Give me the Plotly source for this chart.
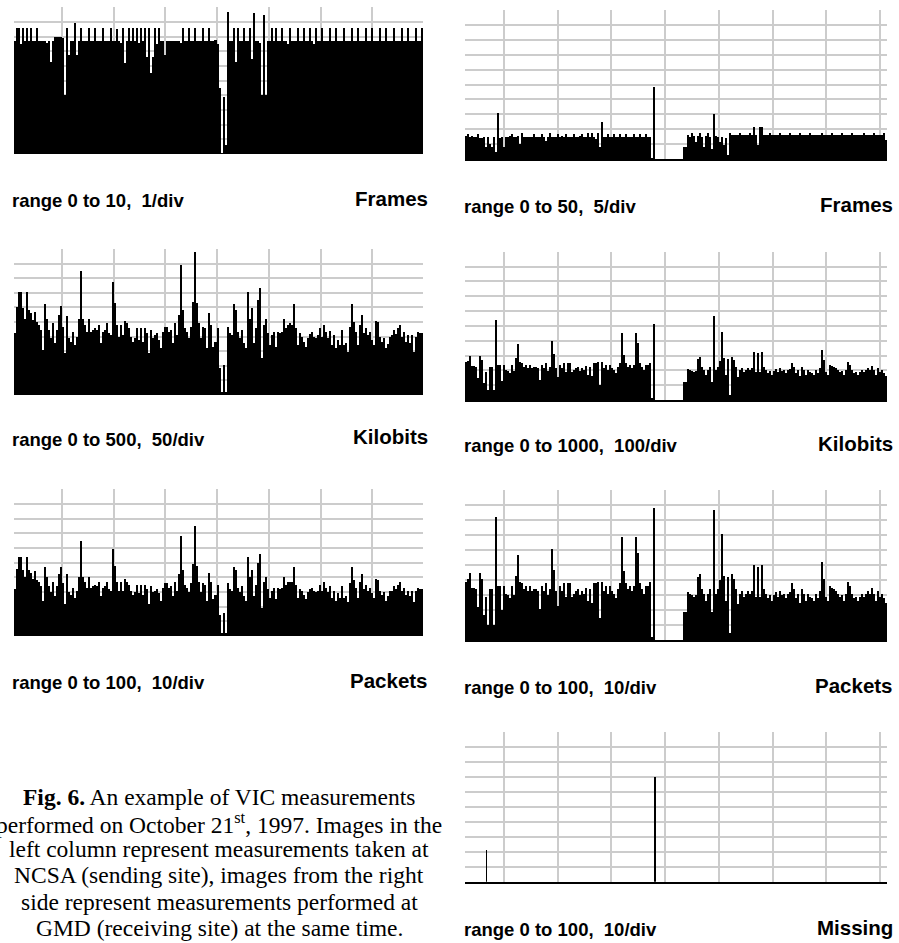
import plotly.graph_objects as go

W, H = 899, 943

# ---------------- data ----------------
left_frames = [
    7.7, 8.6, 8.6, 7.5, 8.6, 7.7, 8.6, 7.7, 8.6, 7.7,
    7.7, 8.6, 7.7, 7.7, 7.7, 7.7, 7.6, 7.7, 6.3, 7.7,
    7.95, 7.95, 7.95, 7.95, 7.9, 4.0, 8.6, 6.75, 7.7, 7.7,
    8.9, 6.75, 7.7, 8.6, 7.7, 7.7, 7.7, 8.6, 7.7, 7.7,
    8.6, 7.7, 7.7, 7.7, 8.6, 7.7, 7.7, 7.7, 8.6, 7.7,
    7.7, 8.5, 7.7, 7.6, 8.6, 6.2, 7.7, 8.6, 7.7, 8.6,
    7.7, 8.6, 7.6, 8.6, 7.7, 8.6, 6.6, 8.6, 5.5, 6.6,
    8.6, 7.5, 8.6, 7.7, 7.7, 6.75, 7.7, 7.7, 7.7, 7.7,
    7.7, 7.7, 7.7, 7.6, 8.6, 7.7, 7.7, 8.6, 7.7, 7.7,
    8.6, 7.7, 7.7, 7.7, 8.6, 7.7, 7.7, 8.6, 7.7, 7.7,
    7.8, 7.5, 4.5, 0.05, 3.9, 0.6, 9.7, 7.7, 7.7, 8.6,
    6.3, 8.6, 7.7, 7.7, 8.6, 7.7, 7.7, 8.6, 6.5, 9.6,
    7.7, 7.7, 7.6, 4.0, 9.5, 4.0, 7.7, 7.7, 8.6, 7.7,
    8.6, 7.7, 7.7, 8.6, 7.7, 7.7, 7.5, 8.6, 7.7, 7.7,
    7.7, 8.6, 7.7, 7.7, 8.6, 7.7, 7.7, 8.6, 7.7, 7.5,
    8.6, 7.7, 7.7, 8.6, 7.7, 7.7, 7.7, 8.6, 7.7, 7.7,
    8.6, 7.7, 7.7, 7.7, 8.6, 7.7, 7.7, 7.7, 8.6, 7.7,
    7.7, 8.6, 7.7, 7.7, 7.7, 8.6, 7.7, 7.7, 8.6, 7.7,
    7.7, 7.7, 8.6, 7.7, 7.7, 8.6, 7.7, 7.7, 7.7, 8.6,
    7.7, 7.7, 7.7, 8.6, 7.7, 7.7, 8.6, 7.7, 7.7, 7.7,
    8.6, 7.7, 7.7, 8.6,
]

left_kilobits = [
    211, 302, 354, 354, 297, 262, 354, 291, 280, 257,
    285, 251, 240, 223, 154, 310, 262, 223, 194, 245,
    177, 223, 274, 305, 234, 143, 272, 194, 183, 217,
    171, 200, 262, 425, 260, 240, 215, 260, 217, 223,
    228, 223, 240, 177, 217, 223, 245, 211, 205, 388,
    314, 240, 200, 240, 205, 253, 245, 228, 200, 183,
    194, 228, 188, 228, 183, 231, 211, 143, 223, 194,
    205, 211, 188, 160, 215, 234, 234, 217, 223, 177,
    245, 205, 274, 445, 291, 228, 217, 194, 234, 320,
    489, 314, 245, 194, 234, 228, 160, 280, 240, 165,
    183, 228, 91, 11, 103, 11, 234, 211, 205, 310,
    291, 217, 194, 223, 177, 160, 354, 262, 297, 177,
    228, 325, 368, 126, 240, 260, 211, 171, 205, 217,
    165, 217, 211, 217, 262, 228, 240, 245, 240, 310,
    228, 171, 211, 200, 183, 165, 194, 208, 217, 200,
    194, 205, 228, 200, 240, 217, 194, 219, 171, 205,
    160, 188, 171, 223, 171, 177, 148, 234, 310, 251,
    217, 171, 240, 274, 211, 228, 205, 217, 188, 171,
    253, 251, 200, 183, 194, 160, 174, 200, 205, 223,
    208, 228, 240, 200, 217, 183, 205, 177, 205, 148,
    200, 217, 211, 211,
]

left_packets = [
    32, 46, 54, 54, 45, 40, 54, 45, 43, 39,
    44, 38, 37, 34, 24, 47, 40, 34, 30, 37,
    27, 34, 42, 47, 36, 22, 42, 30, 28, 33,
    26, 31, 40, 65, 40, 37, 33, 40, 33, 34,
    35, 34, 37, 27, 33, 34, 37, 32, 31, 59,
    48, 37, 31, 37, 31, 39, 37, 35, 31, 28,
    30, 35, 29, 35, 28, 35, 32, 22, 34, 30,
    31, 32, 29, 24, 33, 36, 36, 33, 34, 27,
    37, 31, 42, 68, 45, 35, 33, 30, 36, 49,
    75, 48, 37, 30, 36, 35, 24, 43, 37, 25,
    28, 35, 14, 2, 16, 2, 36, 32, 31, 47,
    45, 33, 30, 34, 27, 24, 54, 40, 45, 27,
    35, 50, 56, 19, 37, 40, 32, 26, 31, 33,
    25, 33, 32, 33, 40, 35, 37, 37, 37, 47,
    35, 26, 32, 31, 28, 25, 30, 32, 33, 31,
    30, 31, 35, 31, 37, 33, 30, 34, 26, 31,
    24, 29, 26, 34, 26, 27, 23, 36, 47, 38,
    33, 26, 37, 42, 32, 35, 31, 33, 29, 26,
    39, 38, 31, 28, 30, 24, 27, 31, 31, 34,
    32, 35, 37, 31, 33, 28, 31, 27, 31, 23,
    31, 33, 32, 32,
]

right_frames = [
    7.6, 8.4, 7.5, 7.6, 7.3, 7.4, 8.4, 7.2, 6.9, 7.5,
    4.1, 7.3, 5.2, 4.1, 7.3, 2.5, 15.5, 7.2, 7.4, 4.1,
    7.5, 7.4, 7.6, 8.4, 7.5, 7.4, 7.6, 5.0, 8.6, 7.5,
    7.3, 7.4, 7.5, 7.4, 8.5, 7.4, 7.3, 7.5, 8.4, 7.3,
    6.0, 7.5, 8.8, 7.4, 7.3, 7.5, 8.4, 7.4, 7.6, 7.5,
    8.4, 7.3, 7.4, 7.5, 8.5, 7.4, 7.3, 7.6, 8.4, 7.4,
    7.3, 8.6, 7.5, 8.6, 7.4, 6.8, 8.8, 4.1, 12.5, 7.4,
    7.5, 8.5, 7.4, 7.5, 8.5, 7.3, 7.4, 8.4, 7.5, 7.4,
    8.4, 7.3, 7.5, 7.4, 8.5, 7.4, 7.3, 8.4, 7.5, 7.4,
    8.4, 7.5, 7.3, 0.2, 24.0, 0, 0, 0, 0, 0,
    0, 0, 0, 0, 0, 0, 0, 0, 0, 4.1,
    4.1, 8.0, 7.4, 8.8, 7.6, 5.8, 7.8, 8.6, 7.5, 4.1,
    7.6, 8.6, 7.4, 3.2, 15.0, 7.6, 7.3, 5.8, 7.5, 4.7,
    7.2, 1.3, 8.6, 8.0, 7.9, 8.0, 8.0, 8.8, 8.0, 7.9,
    8.0, 8.1, 8.8, 8.0, 10.8, 8.0, 4.7, 10.6, 10.8, 8.0,
    7.9, 8.0, 8.8, 8.0, 7.9, 8.0, 8.0, 8.8, 8.0, 7.9,
    8.0, 8.0, 8.8, 8.0, 7.9, 8.0, 8.0, 8.8, 8.0, 7.9,
    8.0, 8.0, 8.8, 8.0, 7.9, 8.0, 8.0, 8.0, 8.8, 8.0,
    7.9, 8.0, 8.0, 8.8, 8.0, 7.9, 8.0, 8.0, 8.8, 8.0,
    7.9, 8.0, 8.0, 8.8, 8.0, 7.9, 8.0, 8.0, 8.0, 8.8,
    8.0, 7.9, 8.0, 8.0, 8.8, 8.0, 7.9, 8.0, 8.0, 8.8,
    6.4,
]

right_kilobits = [
    258, 265, 297, 229, 229, 225, 146, 297, 270, 112,
    191, 67, 225, 225, 67, 539, 236, 236, 128, 236,
    202, 198, 180, 236, 198, 281, 375, 258, 247, 225,
    236, 213, 236, 213, 225, 225, 213, 135, 234, 213,
    247, 198, 225, 400, 310, 213, 153, 236, 213, 247,
    191, 247, 247, 191, 202, 213, 225, 198, 213, 202,
    229, 169, 225, 162, 247, 247, 258, 101, 258, 213,
    236, 202, 236, 213, 202, 184, 225, 247, 449, 303,
    247, 225, 236, 213, 236, 449, 382, 247, 225, 202,
    236, 236, 252, 11, 512, 0, 0, 0, 0, 0,
    0, 0, 0, 0, 0, 0, 0, 0, 0, 124,
    124, 207, 202, 198, 191, 198, 274, 288, 225, 202,
    169, 202, 225, 124, 566, 202, 225, 263, 461, 281,
    169, 274, 34, 288, 270, 225, 157, 202, 213, 191,
    202, 213, 202, 213, 326, 191, 319, 191, 326, 225,
    202, 184, 198, 169, 198, 207, 191, 213, 198, 202,
    184, 202, 207, 247, 225, 180, 202, 162, 225, 202,
    169, 202, 191, 180, 169, 202, 180, 213, 337, 270,
    191, 169, 236, 229, 225, 213, 202, 191, 198, 169,
    202, 258, 236, 202, 180, 191, 169, 191, 202, 191,
    202, 213, 202, 229, 202, 169, 213, 191, 202, 180,
    162,
]

right_packets = [
    39, 41, 45, 35, 35, 34, 22, 45, 41, 17,
    29, 10, 34, 34, 10, 82, 36, 36, 20, 36,
    31, 30, 28, 36, 30, 43, 57, 39, 38, 34,
    36, 33, 36, 33, 34, 34, 33, 21, 36, 33,
    38, 30, 34, 61, 47, 33, 23, 36, 33, 38,
    29, 38, 38, 29, 31, 33, 34, 30, 33, 31,
    35, 26, 34, 25, 38, 38, 39, 15, 39, 33,
    36, 31, 36, 33, 31, 28, 34, 38, 69, 46,
    38, 34, 36, 33, 36, 69, 58, 38, 34, 31,
    36, 36, 39, 2, 88, 0, 0, 0, 0, 0,
    0, 0, 0, 0, 0, 0, 0, 0, 0, 19,
    19, 32, 31, 30, 29, 30, 42, 44, 34, 31,
    26, 31, 34, 19, 87, 31, 34, 40, 71, 43,
    26, 42, 5, 44, 41, 34, 24, 31, 33, 29,
    31, 33, 31, 33, 50, 29, 49, 29, 50, 34,
    31, 28, 30, 26, 30, 32, 29, 33, 30, 31,
    28, 31, 32, 38, 34, 28, 31, 25, 34, 31,
    26, 31, 29, 28, 26, 31, 28, 33, 52, 41,
    29, 26, 36, 35, 34, 33, 31, 29, 30, 26,
    31, 39, 36, 31, 28, 29, 26, 29, 31, 29,
    31, 33, 31, 35, 31, 26, 33, 29, 31, 28,
    25,
]

missing_pos = [10.8, 95.0]
missing_val = [21, 70]

range_labels = ["range 0 to 10,\u00a0 1/div", "range 0 to 500,\u00a0 50/div",
                "range 0 to 100,\u00a0 10/div", "range 0 to 50,\u00a0 5/div",
                "range 0 to 1000,\u00a0 100/div", "range 0 to 100,\u00a0 10/div",
                "range 0 to 100,\u00a0 10/div"]
names = ["Frames", "Kilobits", "Packets", "Frames", "Kilobits", "Packets", "Missing"]
y_max = [10, 500, 100, 50, 1000, 100, 100]

caption = [
    "<b>Fig. 6.</b> An example of VIC measurements",
    "performed on October 21<sup>st</sup>, 1997. Images in the",
    "left column represent measurements taken at",
    "NCSA (sending site), images from the right",
    "side represent measurements performed at",
    "GMD (receiving site) at the same time.",
]

# ---------------- layout (pixel geometry) ----------------
GRID = "#cccccc"
series = [left_frames, left_kilobits, left_packets,
          right_frames, right_kilobits, right_packets, None]
# left, right, top, bottom (px), grid tick0, grid dtick, baseline, label y, label x0, name x1
geo = [
    (14, 423, 7.3, 154, 23.9, 25.8, False, 200, 10, 430),
    (14, 423, 249, 395, 23.9, 25.8, False, 439, 10, 430),
    (14, 423, 489.3, 636, 23.9, 25.8, False, 682, 10, 430),
    (465, 887, 10, 159, 19.5, 26.85, True, 206, 462, 895),
    (465, 887, 251.7, 400, 19.5, 26.85, True, 445, 462, 895),
    (465, 887, 490, 640, 19.5, 26.85, True, 687, 462, 895),
    (465, 887, 731.7, 881.7, 19.5, 26.85, True, 929, 462, 895),
]
n_left, n_right = 204, 211

fig = go.Figure()
annotations = []
lay = {}
for k in range(7):
    l, r, t, b, t0, dt, base, ly, lx0, nx1 = geo[k]
    sfx = "" if k == 0 else str(k + 1)
    xa, ya = "x" + sfx, "y" + sfx
    n = n_left if k < 3 else n_right
    vals = series[k]
    if vals is not None:
        fig.add_trace(go.Bar(x=list(range(len(vals))), y=vals, width=1, offset=0,
                             marker=dict(color="black", line=dict(width=0)),
                             xaxis=xa, yaxis=ya, hoverinfo="skip"))
    else:
        fig.add_trace(go.Bar(x=missing_pos, y=missing_val, width=0.8, offset=-0.4,
                             marker=dict(color="black", line=dict(width=0)),
                             xaxis=xa, yaxis=ya, hoverinfo="skip"))
    lay["xaxis" + sfx] = dict(domain=[l / W, r / W], range=[0, n], anchor=ya,
                              showgrid=True, gridcolor=GRID, gridwidth=2,
                              tickmode="linear", tick0=t0, dtick=dt,
                              showticklabels=False, ticks="", zeroline=False,
                              showline=base, linecolor="black", linewidth=2,
                              fixedrange=True)
    lay["yaxis" + sfx] = dict(domain=[1 - b / H, 1 - t / H], range=[0, y_max[k]], anchor=xa,
                              showgrid=True, gridcolor=GRID, gridwidth=2,
                              tickmode="linear", tick0=0, dtick=y_max[k] / 10,
                              showticklabels=False, ticks="", zeroline=False,
                              fixedrange=True)
    annotations.append(dict(x=lx0 / W, y=1 - ly / H, xref="paper", yref="paper",
                            text="<b>" + range_labels[k] + "</b>", showarrow=False,
                            xanchor="left", yanchor="middle",
                            font=dict(family="Liberation Sans", size=18.5, color="black")))
    annotations.append(dict(x=nx1 / W, y=1 - (ly - 2) / H, xref="paper", yref="paper",
                            text="<b>" + names[k] + "</b>", showarrow=False,
                            xanchor="right", yanchor="middle",
                            font=dict(family="Liberation Sans", size=20.5, color="black")))

cap_y = [797, 823, 849, 875, 902, 928]
for line, cy in zip(caption, cap_y):
    annotations.append(dict(x=219 / W, y=1 - cy / H, xref="paper", yref="paper",
                            text=line, showarrow=False, xanchor="center", yanchor="middle",
                            font=dict(family="Liberation Serif", size=23.5, color="black")))

fig.update_layout(width=W, height=H, autosize=False, margin=dict(l=0, r=0, t=0, b=0),
                  paper_bgcolor="white", plot_bgcolor="white", showlegend=False,
                  bargap=0, annotations=annotations, **lay)

fig.write_html("out.html", config={"displayModeBar": False, "staticPlot": True},
               post_script="document.body.style.margin='0';document.body.style.overflow='hidden';")
